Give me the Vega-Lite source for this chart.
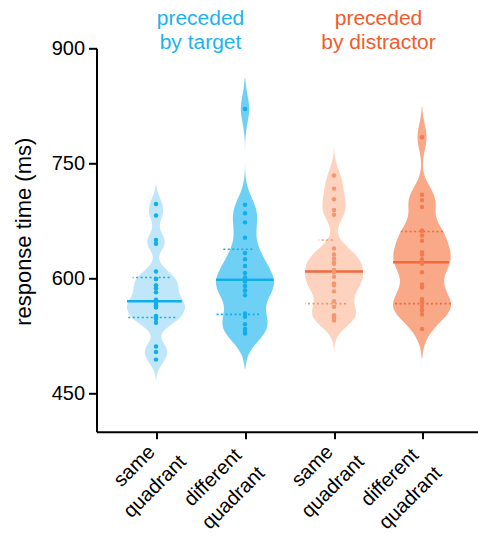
{
  "$schema": "https://vega.github.io/schema/vega-lite/v6.json",
  "autosize": {"type": "none"},
  "padding": {"left": 96.5, "top": 48.3, "right": 381.5, "bottom": 493.7},
  "spacing": 0,
  "bounds": "flush",
  "config": {
    "font": "Liberation Sans",
    "view": {"stroke": null},
    "axis": {"domainColor": "black", "domainWidth": 2, "tickColor": "black", "tickWidth": 2, "labelColor": "black", "titleColor": "black", "grid": false, "titleFontWeight": "normal"},
    "axisY": {"tickSize": 8, "labelFontSize": 20, "labelPadding": 4, "titleFontSize": 22, "titlePadding": 16, "titleY": 183},
    "axisX": {"tickSize": 7, "labelFontSize": 20, "labelAngle": -45, "labelAlign": "center", "labelBaseline": "middle", "labelLineHeight": 29, "labelFlush": false, "labelOverlap": false, "labelBound": false},
    "title": {"fontSize": 21, "fontWeight": "normal", "lineHeight": 24}
  },
  "datasets": {
    "pts": [
      {"g": "A", "rt": 697}, {"g": "A", "rt": 682}, {"g": "A", "rt": 650}, {"g": "A", "rt": 645}, {"g": "A", "rt": 609}, {"g": "A", "rt": 599}, {"g": "A", "rt": 599}, {"g": "A", "rt": 591}, {"g": "A", "rt": 587}, {"g": "A", "rt": 582}, {"g": "A", "rt": 572}, {"g": "A", "rt": 568}, {"g": "A", "rt": 564}, {"g": "A", "rt": 565}, {"g": "A", "rt": 562}, {"g": "A", "rt": 551}, {"g": "A", "rt": 549}, {"g": "A", "rt": 547}, {"g": "A", "rt": 542}, {"g": "A", "rt": 511}, {"g": "A", "rt": 504}, {"g": "A", "rt": 494},
      {"g": "B", "rt": 821}, {"g": "B", "rt": 696}, {"g": "B", "rt": 685}, {"g": "B", "rt": 673}, {"g": "B", "rt": 653}, {"g": "B", "rt": 633}, {"g": "B", "rt": 625}, {"g": "B", "rt": 616}, {"g": "B", "rt": 607}, {"g": "B", "rt": 601}, {"g": "B", "rt": 596}, {"g": "B", "rt": 590}, {"g": "B", "rt": 584}, {"g": "B", "rt": 584}, {"g": "B", "rt": 578}, {"g": "B", "rt": 554}, {"g": "B", "rt": 550}, {"g": "B", "rt": 540}, {"g": "B", "rt": 534}, {"g": "B", "rt": 530}, {"g": "B", "rt": 528},
      {"g": "C", "rt": 734}, {"g": "C", "rt": 717}, {"g": "C", "rt": 703}, {"g": "C", "rt": 689}, {"g": "C", "rt": 683}, {"g": "C", "rt": 639}, {"g": "C", "rt": 631}, {"g": "C", "rt": 626}, {"g": "C", "rt": 621}, {"g": "C", "rt": 619}, {"g": "C", "rt": 611}, {"g": "C", "rt": 608}, {"g": "C", "rt": 602}, {"g": "C", "rt": 593}, {"g": "C", "rt": 593}, {"g": "C", "rt": 591}, {"g": "C", "rt": 583}, {"g": "C", "rt": 570}, {"g": "C", "rt": 563}, {"g": "C", "rt": 552}, {"g": "C", "rt": 551}, {"g": "C", "rt": 548}, {"g": "C", "rt": 545},
      {"g": "D", "rt": 784}, {"g": "D", "rt": 709}, {"g": "D", "rt": 702}, {"g": "D", "rt": 693}, {"g": "D", "rt": 662}, {"g": "D", "rt": 662}, {"g": "D", "rt": 656}, {"g": "D", "rt": 649}, {"g": "D", "rt": 634}, {"g": "D", "rt": 631}, {"g": "D", "rt": 625}, {"g": "D", "rt": 621}, {"g": "D", "rt": 619}, {"g": "D", "rt": 608}, {"g": "D", "rt": 592}, {"g": "D", "rt": 588}, {"g": "D", "rt": 573}, {"g": "D", "rt": 569}, {"g": "D", "rt": 564}, {"g": "D", "rt": 559}, {"g": "D", "rt": 558}, {"g": "D", "rt": 553}, {"g": "D", "rt": 534}
    ],
    "stats": [
      {"g": "A", "med": 570, "q1": 549, "q3": 601},
      {"g": "B", "med": 598, "q1": 553, "q3": 638},
      {"g": "C", "med": 609, "q1": 567, "q3": 650},
      {"g": "D", "med": 621, "q1": 567, "q3": 661}
    ]
  },
  "data": {"name": "pts"},
  "hconcat": [
    {
      "width": 104, "height": 383.4,
      "title": {"text": ["preceded", "by target"], "anchor": "end", "align": "center", "frame": "group", "color": "#1cb3ee", "offset": -14.5},
      "transform": [{"filter": "datum.g === 'A'"}],
      "layer": [
        {"layer": [
          {"transform": [{"density": "rt", "bandwidth": 11, "extent": [467, 722], "steps": 255}],
           "mark": {"type": "area", "orient": "horizontal", "color": "#bfe7f9"},
           "encoding": {
             "y": {"field": "value", "type": "quantitative", "scale": {"domain": [400, 900], "nice": false, "zero": false}, "axis": {"values": [450, 600, 750, 900], "title": "response time (ms)"}},
             "x": {"field": "density", "type": "quantitative", "stack": "center", "impute": null, "axis": null, "scale": {"range": [30.5, 88.5], "nice": false}}}},
          {"transform": [{"lookup": "g", "from": {"data": {"name": "stats"}, "key": "g", "fields": ["med", "q1", "q3"]}}, {"density": "rt", "bandwidth": 11, "extent": [467, 722], "steps": 255, "groupby": ["med", "q1", "q3"]}, {"filter": "abs(datum.value - datum.med) < 0.5"}],
           "mark": {"type": "rule", "orient": "horizontal", "color": "#12aee9", "strokeWidth": 2.5},
           "encoding": {
             "y": {"field": "value", "type": "quantitative", "scale": {"domain": [400, 900], "nice": false, "zero": false}, "axis": {"values": [450, 600, 750, 900], "title": "response time (ms)"}},
             "x": {"field": "density", "type": "quantitative", "stack": "center", "axis": null}}},
          {"transform": [{"lookup": "g", "from": {"data": {"name": "stats"}, "key": "g", "fields": ["med", "q1", "q3"]}}, {"density": "rt", "bandwidth": 11, "extent": [467, 722], "steps": 255, "groupby": ["med", "q1", "q3"]}, {"filter": "abs(datum.value - datum.q1) < 0.5 || abs(datum.value - datum.q3) < 0.5"}],
           "mark": {"type": "rule", "orient": "horizontal", "color": "#12aee9", "strokeWidth": 1.6, "strokeDash": [2, 2.5]},
           "encoding": {
             "y": {"field": "value", "type": "quantitative", "scale": {"domain": [400, 900], "nice": false, "zero": false}, "axis": {"values": [450, 600, 750, 900], "title": "response time (ms)"}},
             "x": {"field": "density", "type": "quantitative", "stack": "center", "axis": null}}}
        ]},
        {"mark": {"type": "circle", "size": 20, "opacity": 1, "color": "#12aee9"},
         "encoding": {
           "y": {"field": "rt", "type": "quantitative", "scale": {"domain": [400, 900], "nice": false, "zero": false}, "axis": {"values": [450, 600, 750, 900], "title": "response time (ms)"}},
           "x": {"datum": 0, "type": "quantitative", "scale": {"domain": [-59.5, 44.5], "nice": false, "zero": false}, "axis": {"values": [0], "labelExpr": "['same', 'quadrant']", "labelOffset": -22, "labelPadding": 27, "title": null}}}}
      ],
      "resolve": {"scale": {"x": "independent"}, "axis": {"x": "independent"}}
    },
    {
      "width": 89, "height": 383.4,
      "transform": [{"filter": "datum.g === 'B'"}],
      "layer": [
        {"layer": [
          {"transform": [{"density": "rt", "bandwidth": 18, "extent": [482, 861], "steps": 379}],
           "mark": {"type": "area", "orient": "horizontal", "color": "#6fd0f6"},
           "encoding": {
             "y": {"field": "value", "type": "quantitative", "scale": {"domain": [400, 900], "nice": false, "zero": false}, "axis": null},
             "x": {"field": "density", "type": "quantitative", "stack": "center", "impute": null, "axis": null, "scale": {"range": [15.5, 73.5], "nice": false}}}},
          {"transform": [{"lookup": "g", "from": {"data": {"name": "stats"}, "key": "g", "fields": ["med", "q1", "q3"]}}, {"density": "rt", "bandwidth": 18, "extent": [482, 861], "steps": 379, "groupby": ["med", "q1", "q3"]}, {"filter": "abs(datum.value - datum.med) < 0.5"}],
           "mark": {"type": "rule", "orient": "horizontal", "color": "#12aee9", "strokeWidth": 2.5},
           "encoding": {
             "y": {"field": "value", "type": "quantitative", "scale": {"domain": [400, 900], "nice": false, "zero": false}, "axis": null},
             "x": {"field": "density", "type": "quantitative", "stack": "center", "axis": null}}},
          {"transform": [{"lookup": "g", "from": {"data": {"name": "stats"}, "key": "g", "fields": ["med", "q1", "q3"]}}, {"density": "rt", "bandwidth": 18, "extent": [482, 861], "steps": 379, "groupby": ["med", "q1", "q3"]}, {"filter": "abs(datum.value - datum.q1) < 0.5 || abs(datum.value - datum.q3) < 0.5"}],
           "mark": {"type": "rule", "orient": "horizontal", "color": "#12aee9", "strokeWidth": 1.6, "strokeDash": [2, 2.5]},
           "encoding": {
             "y": {"field": "value", "type": "quantitative", "scale": {"domain": [400, 900], "nice": false, "zero": false}, "axis": null},
             "x": {"field": "density", "type": "quantitative", "stack": "center", "axis": null}}}
        ]},
        {"mark": {"type": "circle", "size": 20, "opacity": 1, "color": "#12aee9"},
         "encoding": {
           "y": {"field": "rt", "type": "quantitative", "scale": {"domain": [400, 900], "nice": false, "zero": false}, "axis": null},
           "x": {"datum": 0, "type": "quantitative", "scale": {"domain": [-44.5, 44.5], "nice": false, "zero": false}, "axis": {"values": [0], "labelExpr": "['different', 'quadrant']", "labelOffset": -32.5, "labelPadding": 38.5, "title": null}}}}
      ],
      "resolve": {"scale": {"x": "independent"}, "axis": {"x": "independent"}}
    },
    {
      "width": 89, "height": 383.4,
      "title": {"text": ["preceded", "by distractor"], "anchor": "end", "align": "center", "frame": "group", "color": "#f25b2b", "offset": -4.5},
      "transform": [{"filter": "datum.g === 'C'"}],
      "layer": [
        {"layer": [
          {"transform": [{"density": "rt", "bandwidth": 14, "extent": [502, 772], "steps": 270}],
           "mark": {"type": "area", "orient": "horizontal", "color": "#fdd3bf"},
           "encoding": {
             "y": {"field": "value", "type": "quantitative", "scale": {"domain": [400, 900], "nice": false, "zero": false}, "axis": null},
             "x": {"field": "density", "type": "quantitative", "stack": "center", "impute": null, "axis": null, "scale": {"range": [15.5, 73.5], "nice": false}}}},
          {"transform": [{"lookup": "g", "from": {"data": {"name": "stats"}, "key": "g", "fields": ["med", "q1", "q3"]}}, {"density": "rt", "bandwidth": 14, "extent": [502, 772], "steps": 270, "groupby": ["med", "q1", "q3"]}, {"filter": "abs(datum.value - datum.med) < 0.5"}],
           "mark": {"type": "rule", "orient": "horizontal", "color": "#f06a3b", "strokeWidth": 2.5},
           "encoding": {
             "y": {"field": "value", "type": "quantitative", "scale": {"domain": [400, 900], "nice": false, "zero": false}, "axis": null},
             "x": {"field": "density", "type": "quantitative", "stack": "center", "axis": null}}},
          {"transform": [{"lookup": "g", "from": {"data": {"name": "stats"}, "key": "g", "fields": ["med", "q1", "q3"]}}, {"density": "rt", "bandwidth": 14, "extent": [502, 772], "steps": 270, "groupby": ["med", "q1", "q3"]}, {"filter": "abs(datum.value - datum.q1) < 0.5 || abs(datum.value - datum.q3) < 0.5"}],
           "mark": {"type": "rule", "orient": "horizontal", "color": "#f4936c", "strokeWidth": 1.6, "strokeDash": [2, 2.5]},
           "encoding": {
             "y": {"field": "value", "type": "quantitative", "scale": {"domain": [400, 900], "nice": false, "zero": false}, "axis": null},
             "x": {"field": "density", "type": "quantitative", "stack": "center", "axis": null}}}
        ]},
        {"mark": {"type": "circle", "size": 20, "opacity": 1, "color": "#f49670"},
         "encoding": {
           "y": {"field": "rt", "type": "quantitative", "scale": {"domain": [400, 900], "nice": false, "zero": false}, "axis": null},
           "x": {"datum": 0, "type": "quantitative", "scale": {"domain": [-44.5, 44.5], "nice": false, "zero": false}, "axis": {"values": [0], "labelExpr": "['same', 'quadrant']", "labelOffset": -22, "labelPadding": 27, "title": null}}}}
      ],
      "resolve": {"scale": {"x": "independent"}, "axis": {"x": "independent"}}
    },
    {
      "width": 100, "height": 383.4,
      "transform": [{"filter": "datum.g === 'D'"}],
      "layer": [
        {"layer": [
          {"transform": [{"density": "rt", "bandwidth": 17, "extent": [496, 824], "steps": 328}],
           "mark": {"type": "area", "orient": "horizontal", "color": "#f9a988"},
           "encoding": {
             "y": {"field": "value", "type": "quantitative", "scale": {"domain": [400, 900], "nice": false, "zero": false}, "axis": null},
             "x": {"field": "density", "type": "quantitative", "stack": "center", "impute": null, "axis": null, "scale": {"range": [14.5, 72.5], "nice": false}}}},
          {"transform": [{"lookup": "g", "from": {"data": {"name": "stats"}, "key": "g", "fields": ["med", "q1", "q3"]}}, {"density": "rt", "bandwidth": 17, "extent": [496, 824], "steps": 328, "groupby": ["med", "q1", "q3"]}, {"filter": "abs(datum.value - datum.med) < 0.5"}],
           "mark": {"type": "rule", "orient": "horizontal", "color": "#f06a3b", "strokeWidth": 2.5},
           "encoding": {
             "y": {"field": "value", "type": "quantitative", "scale": {"domain": [400, 900], "nice": false, "zero": false}, "axis": null},
             "x": {"field": "density", "type": "quantitative", "stack": "center", "axis": null}}},
          {"transform": [{"lookup": "g", "from": {"data": {"name": "stats"}, "key": "g", "fields": ["med", "q1", "q3"]}}, {"density": "rt", "bandwidth": 17, "extent": [496, 824], "steps": 328, "groupby": ["med", "q1", "q3"]}, {"filter": "abs(datum.value - datum.q1) < 0.5 || abs(datum.value - datum.q3) < 0.5"}],
           "mark": {"type": "rule", "orient": "horizontal", "color": "#f06a3b", "strokeWidth": 1.6, "strokeDash": [2, 2.5]},
           "encoding": {
             "y": {"field": "value", "type": "quantitative", "scale": {"domain": [400, 900], "nice": false, "zero": false}, "axis": null},
             "x": {"field": "density", "type": "quantitative", "stack": "center", "axis": null}}}
        ]},
        {"mark": {"type": "circle", "size": 20, "opacity": 1, "color": "#f27a50"},
         "encoding": {
           "y": {"field": "rt", "type": "quantitative", "scale": {"domain": [400, 900], "nice": false, "zero": false}, "axis": null},
           "x": {"datum": 0, "type": "quantitative", "scale": {"domain": [-43.5, 56.5], "nice": false, "zero": false}, "axis": {"values": [0], "labelExpr": "['different', 'quadrant']", "labelOffset": -32.5, "labelPadding": 38.5, "title": null}}}}
      ],
      "resolve": {"scale": {"x": "independent"}, "axis": {"x": "independent"}}
    }
  ]
}
